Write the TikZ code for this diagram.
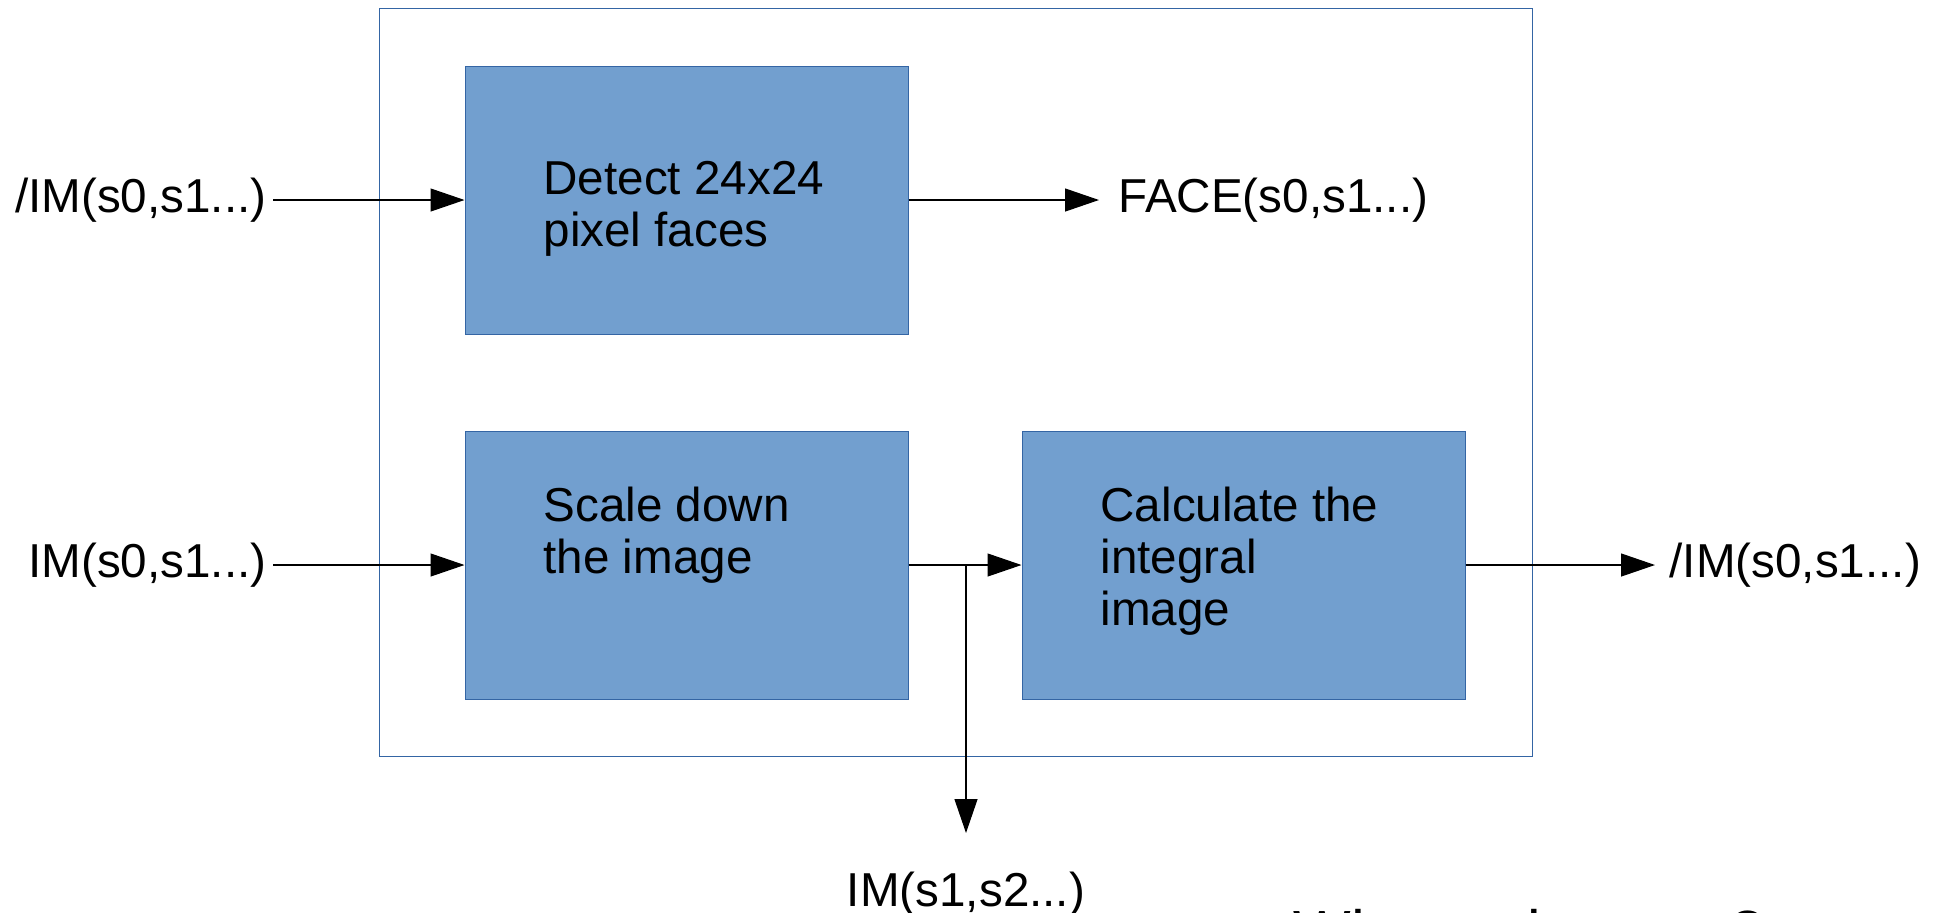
\documentclass[tikz,border=0pt]{standalone}
\usepackage{fontspec}
\setmainfont{Liberation Sans}
\usetikzlibrary{arrows.meta}
\definecolor{boxfill}{HTML}{729FCF}
\definecolor{boxline}{HTML}{3465A4}

\begin{document}
\begin{tikzpicture}[x=0.5pt, y=-0.5pt, >={Triangle[length=17pt,width=11.5pt]},
  block/.style={draw=boxline, line width=0.5pt, fill=boxfill, minimum width=221.5pt, minimum height=134pt, inner sep=0pt},
  frame/.style={draw=boxline, line width=0.5pt, minimum width=576.5pt, minimum height=374pt, inner sep=0pt},
  txt/.style={anchor=base west, inner sep=0pt, align=left},
  inlabel/.style={anchor=east, inner xsep=3pt, inner ysep=0pt},
  outlabel/.style={anchor=west, inner xsep=7pt, inner ysep=0pt},
  every path/.style={line width=0.6pt},
  font=\fontsize{23.8}{26}\selectfont]
\useasboundingbox (0,0) rectangle (1940,912);
\node[frame] (stage) at (955.5,382) {};
\node[block] (detect) at (686.5,200) {};
\node[block] (scale) at (686.5,565) {};
\node[block] (integral) at (1243.5,565) {};
\node[txt] (detecttxt) at (543,194) {Detect 24x24};
\node[txt] (detecttxt2) at (543,246) {pixel faces};
\node[txt] (scaletxt) at (543,521) {Scale down};
\node[txt] (scaletxt2) at (543,573) {the image};
\node[txt] (integraltxt) at (1100,521) {Calculate the};
\node[txt] (integraltxt2) at (1100,573) {integral};
\node[txt] (integraltxt3) at (1100,625) {image};
\node[inlabel] (inint) at (273,200) {/IM(s0,s1...)};
\node[inlabel] (inim) at (273,565) {IM(s0,s1...)};
\node[outlabel, inner xsep=9.5pt] (face) at (1099,200) {FACE(s0,s1...)};
\node[outlabel] (outint) at (1655,565) {/IM(s0,s1...)};
\node[anchor=north, inner xsep=0pt, inner ysep=19pt] (imnext) at (966,833) {IM(s1,s2...)};
\coordinate (split) at (966,565);
\draw[->] (inint) -- (detect);
\draw[->] (detect) -- (face);
\draw[->] (inim) -- (scale);
\draw[->] (scale) -- (integral);
\draw[->] (split) -- (imnext);
\draw[->] (integral) -- (outint);
%\draw[->] (integral) -- (detect);
\node[anchor=base west, inner sep=0pt, font=\fontsize{30.5}{34}\selectfont] (question) at (1293,953) {Why scale more?};
\end{tikzpicture}
\end{document}
